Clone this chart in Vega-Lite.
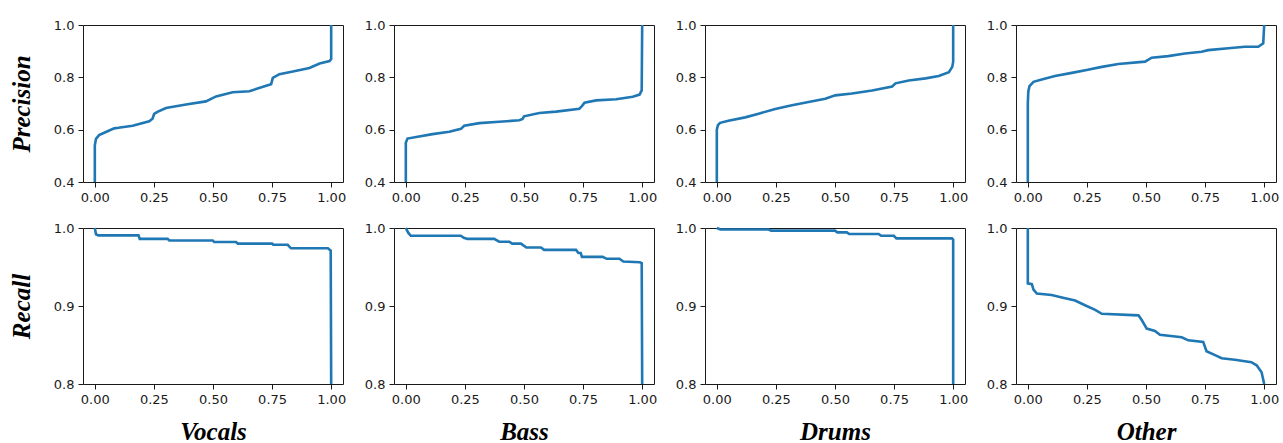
{
  "$schema": "https://vega.github.io/schema/vega-lite/v6.json",
  "background": "white",
  "padding": {"left": 8, "top": 18, "right": 5, "bottom": 0},
  "spacing": 16,
  "config": {
    "view": {"stroke": "#1a1a1a", "strokeWidth": 1},
    "axis": {"grid": false, "domain": false, "tickColor": "#1a1a1a", "tickSize": 5, "labelPadding": 4, "labelFont": "DejaVu Sans", "labelFontSize": 13, "labelColor": "#1a1a1a", "titleFont": "Liberation Serif", "titleFontSize": 25, "titleFontStyle": "italic", "titleFontWeight": "bold", "titleColor": "#000"},
    "line": {"color": "#1f77b4", "strokeWidth": 2.6, "clip": true}
  },
  "datasets": {
    "vp": [{"t":0,"v":0.4},{"t":0,"v":0.54},{"t":0.005,"v":0.565},{"t":0.018,"v":0.579},{"t":0.047,"v":0.591},{"t":0.082,"v":0.605},{"t":0.1,"v":0.607},{"t":0.16,"v":0.615},{"t":0.23,"v":0.632},{"t":0.244,"v":0.642},{"t":0.251,"v":0.66},{"t":0.265,"v":0.668},{"t":0.301,"v":0.683},{"t":0.386,"v":0.696},{"t":0.47,"v":0.708},{"t":0.513,"v":0.727},{"t":0.583,"v":0.743},{"t":0.654,"v":0.747},{"t":0.725,"v":0.768},{"t":0.746,"v":0.774},{"t":0.753,"v":0.798},{"t":0.781,"v":0.812},{"t":0.838,"v":0.822},{"t":0.908,"v":0.836},{"t":0.951,"v":0.853},{"t":0.993,"v":0.862},{"t":1.0,"v":0.87},{"t":1.0,"v":1.0}],
    "vr": [{"t":0,"v":1.0},{"t":0.005,"v":0.992},{"t":0.015,"v":0.9906},{"t":0.185,"v":0.9906},{"t":0.19,"v":0.986},{"t":0.308,"v":0.986},{"t":0.315,"v":0.984},{"t":0.499,"v":0.984},{"t":0.505,"v":0.982},{"t":0.597,"v":0.982},{"t":0.605,"v":0.98},{"t":0.75,"v":0.98},{"t":0.755,"v":0.9785},{"t":0.816,"v":0.9785},{"t":0.83,"v":0.974},{"t":0.986,"v":0.974},{"t":0.998,"v":0.971},{"t":1.0,"v":0.8}],
    "bp": [{"t":0,"v":0.4},{"t":0,"v":0.55},{"t":0.007,"v":0.566},{"t":0.056,"v":0.574},{"t":0.113,"v":0.583},{"t":0.184,"v":0.592},{"t":0.233,"v":0.603},{"t":0.247,"v":0.615},{"t":0.311,"v":0.625},{"t":0.395,"v":0.63},{"t":0.48,"v":0.636},{"t":0.494,"v":0.641},{"t":0.5,"v":0.651},{"t":0.565,"v":0.664},{"t":0.636,"v":0.669},{"t":0.734,"v":0.68},{"t":0.745,"v":0.69},{"t":0.756,"v":0.703},{"t":0.805,"v":0.712},{"t":0.89,"v":0.716},{"t":0.96,"v":0.726},{"t":0.989,"v":0.734},{"t":0.998,"v":0.75},{"t":1.0,"v":1.0}],
    "br": [{"t":0,"v":1.0},{"t":0.01,"v":0.994},{"t":0.021,"v":0.99},{"t":0.233,"v":0.99},{"t":0.245,"v":0.9875},{"t":0.261,"v":0.986},{"t":0.374,"v":0.986},{"t":0.395,"v":0.9824},{"t":0.438,"v":0.9824},{"t":0.45,"v":0.98},{"t":0.487,"v":0.98},{"t":0.51,"v":0.975},{"t":0.572,"v":0.975},{"t":0.585,"v":0.972},{"t":0.72,"v":0.972},{"t":0.73,"v":0.968},{"t":0.74,"v":0.968},{"t":0.745,"v":0.963},{"t":0.833,"v":0.963},{"t":0.85,"v":0.9605},{"t":0.904,"v":0.9605},{"t":0.92,"v":0.957},{"t":0.99,"v":0.956},{"t":0.998,"v":0.955},{"t":1.0,"v":0.8}],
    "dp": [{"t":0,"v":0.4},{"t":0,"v":0.6},{"t":0.005,"v":0.618},{"t":0.014,"v":0.626},{"t":0.049,"v":0.634},{"t":0.12,"v":0.647},{"t":0.177,"v":0.661},{"t":0.247,"v":0.679},{"t":0.318,"v":0.693},{"t":0.388,"v":0.706},{"t":0.459,"v":0.718},{"t":0.501,"v":0.731},{"t":0.572,"v":0.738},{"t":0.657,"v":0.75},{"t":0.742,"v":0.765},{"t":0.756,"v":0.777},{"t":0.812,"v":0.788},{"t":0.883,"v":0.796},{"t":0.939,"v":0.805},{"t":0.982,"v":0.82},{"t":0.996,"v":0.84},{"t":1.0,"v":0.86},{"t":1.0,"v":1.0}],
    "dr": [{"t":0,"v":1.0},{"t":0.015,"v":0.998},{"t":0.219,"v":0.998},{"t":0.23,"v":0.9966},{"t":0.5,"v":0.9966},{"t":0.51,"v":0.9944},{"t":0.55,"v":0.9944},{"t":0.56,"v":0.9923},{"t":0.685,"v":0.9923},{"t":0.695,"v":0.99},{"t":0.749,"v":0.99},{"t":0.76,"v":0.9867},{"t":0.995,"v":0.9867},{"t":1.0,"v":0.985},{"t":1.0,"v":0.8}],
    "op": [{"t":0,"v":0.4},{"t":0,"v":0.7},{"t":0.002,"v":0.745},{"t":0.007,"v":0.766},{"t":0.024,"v":0.783},{"t":0.059,"v":0.792},{"t":0.115,"v":0.805},{"t":0.186,"v":0.817},{"t":0.249,"v":0.828},{"t":0.313,"v":0.84},{"t":0.383,"v":0.851},{"t":0.496,"v":0.86},{"t":0.524,"v":0.875},{"t":0.594,"v":0.881},{"t":0.665,"v":0.891},{"t":0.735,"v":0.898},{"t":0.763,"v":0.904},{"t":0.848,"v":0.911},{"t":0.918,"v":0.917},{"t":0.975,"v":0.917},{"t":0.996,"v":0.93},{"t":1.0,"v":1.0}],
    "or": [{"t":0,"v":1.0},{"t":0,"v":0.929},{"t":0.017,"v":0.928},{"t":0.024,"v":0.921},{"t":0.038,"v":0.916},{"t":0.101,"v":0.914},{"t":0.144,"v":0.911},{"t":0.2,"v":0.907},{"t":0.242,"v":0.901},{"t":0.285,"v":0.895},{"t":0.313,"v":0.89},{"t":0.468,"v":0.888},{"t":0.482,"v":0.882},{"t":0.503,"v":0.871},{"t":0.538,"v":0.868},{"t":0.559,"v":0.863},{"t":0.651,"v":0.86},{"t":0.679,"v":0.856},{"t":0.742,"v":0.854},{"t":0.756,"v":0.842},{"t":0.792,"v":0.837},{"t":0.82,"v":0.833},{"t":0.876,"v":0.831},{"t":0.946,"v":0.828},{"t":0.968,"v":0.824},{"t":0.989,"v":0.815},{"t":1.0,"v":0.8}]
  },
  "vconcat": [
    {
      "bounds": "flush",
      "spacing": 51,
      "hconcat": [
        {"width": 260, "height": 157, "data": {"name": "vp"}, "mark": {"type": "line"},
         "encoding": {"order": {"value": null},
           "x": {"field": "t", "type": "quantitative", "scale": {"domain": [-0.05, 1.05], "nice": false, "zero": false}, "axis": {"values": [0, 0.25, 0.5, 0.75, 1], "format": ".2f", "title": null}},
           "y": {"field": "v", "type": "quantitative", "scale": {"domain": [0.4, 1.0], "nice": false, "zero": false}, "axis": {"values": [0.4, 0.6, 0.8, 1.0], "format": ".1f", "title": "Precision", "titlePadding": 19}}}},
        {"width": 260, "height": 157, "data": {"name": "bp"}, "mark": {"type": "line"},
         "encoding": {"order": {"value": null},
           "x": {"field": "t", "type": "quantitative", "scale": {"domain": [-0.05, 1.05], "nice": false, "zero": false}, "axis": {"values": [0, 0.25, 0.5, 0.75, 1], "format": ".2f", "title": null}},
           "y": {"field": "v", "type": "quantitative", "scale": {"domain": [0.4, 1.0], "nice": false, "zero": false}, "axis": {"values": [0.4, 0.6, 0.8, 1.0], "format": ".1f", "title": null}}}},
        {"width": 260, "height": 157, "data": {"name": "dp"}, "mark": {"type": "line"},
         "encoding": {"order": {"value": null},
           "x": {"field": "t", "type": "quantitative", "scale": {"domain": [-0.05, 1.05], "nice": false, "zero": false}, "axis": {"values": [0, 0.25, 0.5, 0.75, 1], "format": ".2f", "title": null}},
           "y": {"field": "v", "type": "quantitative", "scale": {"domain": [0.4, 1.0], "nice": false, "zero": false}, "axis": {"values": [0.4, 0.6, 0.8, 1.0], "format": ".1f", "title": null}}}},
        {"width": 260, "height": 157, "data": {"name": "op"}, "mark": {"type": "line"},
         "encoding": {"order": {"value": null},
           "x": {"field": "t", "type": "quantitative", "scale": {"domain": [-0.05, 1.05], "nice": false, "zero": false}, "axis": {"values": [0, 0.25, 0.5, 0.75, 1], "format": ".2f", "title": null}},
           "y": {"field": "v", "type": "quantitative", "scale": {"domain": [0.4, 1.0], "nice": false, "zero": false}, "axis": {"values": [0.4, 0.6, 0.8, 1.0], "format": ".1f", "title": null}}}}
      ]
    },
    {
      "bounds": "flush",
      "spacing": 51,
      "hconcat": [
        {"width": 260, "height": 156, "data": {"name": "vr"}, "mark": {"type": "line"},
         "encoding": {"order": {"value": null},
           "x": {"field": "t", "type": "quantitative", "scale": {"domain": [-0.05, 1.05], "nice": false, "zero": false}, "axis": {"values": [0, 0.25, 0.5, 0.75, 1], "format": ".2f", "title": "Vocals", "titlePadding": 13}},
           "y": {"field": "v", "type": "quantitative", "scale": {"domain": [0.8, 1.0], "nice": false, "zero": false}, "axis": {"values": [0.8, 0.9, 1.0], "format": ".1f", "title": "Recall", "titlePadding": 19}}}},
        {"width": 260, "height": 156, "data": {"name": "br"}, "mark": {"type": "line"},
         "encoding": {"order": {"value": null},
           "x": {"field": "t", "type": "quantitative", "scale": {"domain": [-0.05, 1.05], "nice": false, "zero": false}, "axis": {"values": [0, 0.25, 0.5, 0.75, 1], "format": ".2f", "title": "Bass", "titlePadding": 13}},
           "y": {"field": "v", "type": "quantitative", "scale": {"domain": [0.8, 1.0], "nice": false, "zero": false}, "axis": {"values": [0.8, 0.9, 1.0], "format": ".1f", "title": null}}}},
        {"width": 260, "height": 156, "data": {"name": "dr"}, "mark": {"type": "line"},
         "encoding": {"order": {"value": null},
           "x": {"field": "t", "type": "quantitative", "scale": {"domain": [-0.05, 1.05], "nice": false, "zero": false}, "axis": {"values": [0, 0.25, 0.5, 0.75, 1], "format": ".2f", "title": "Drums", "titlePadding": 13}},
           "y": {"field": "v", "type": "quantitative", "scale": {"domain": [0.8, 1.0], "nice": false, "zero": false}, "axis": {"values": [0.8, 0.9, 1.0], "format": ".1f", "title": null}}}},
        {"width": 260, "height": 156, "data": {"name": "or"}, "mark": {"type": "line"},
         "encoding": {"order": {"value": null},
           "x": {"field": "t", "type": "quantitative", "scale": {"domain": [-0.05, 1.05], "nice": false, "zero": false}, "axis": {"values": [0, 0.25, 0.5, 0.75, 1], "format": ".2f", "title": "Other", "titlePadding": 13}},
           "y": {"field": "v", "type": "quantitative", "scale": {"domain": [0.8, 1.0], "nice": false, "zero": false}, "axis": {"values": [0.8, 0.9, 1.0], "format": ".1f", "title": null}}}}
      ]
    }
  ]
}
